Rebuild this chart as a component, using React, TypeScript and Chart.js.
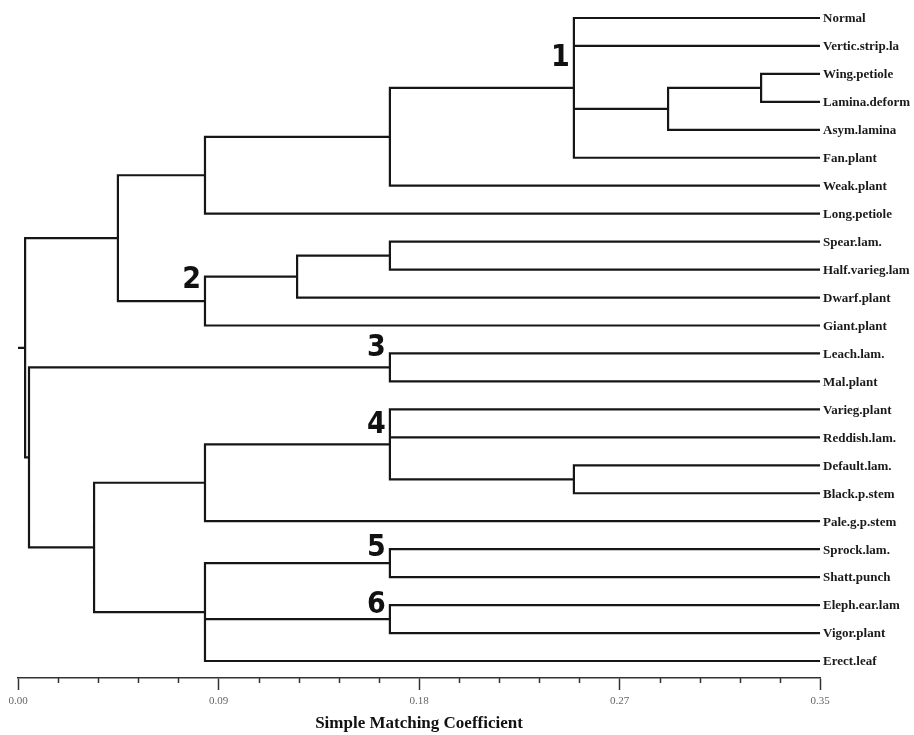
import React, { useEffect, useRef } from "react";
import { Chart, registerables } from "chart.js";

Chart.register(...registerables);

// ---------- DATA ----------
const leafLabels = [
  "Normal",
  "Vertic.strip.la",
  "Wing.petiole",
  "Lamina.deform",
  "Asym.lamina",
  "Fan.plant",
  "Weak.plant",
  "Long.petiole",
  "Spear.lam.",
  "Half.varieg.lam",
  "Dwarf.plant",
  "Giant.plant",
  "Leach.lam.",
  "Mal.plant",
  "Varieg.plant",
  "Reddish.lam.",
  "Default.lam.",
  "Black.p.stem",
  "Pale.g.p.stem",
  "Sprock.lam.",
  "Shatt.punch",
  "Eleph.ear.lam",
  "Vigor.plant",
  "Erect.leaf",
];

// Children of each merge (ids < 24 are leaves, ids >= 24 are earlier merges, in order)
const mergeChildren: number[][] = [
  [2, 3], // 24
  [24, 4], // 25
  [0, 1, 25, 5], // 26 (cluster 1)
  [26, 6], // 27
  [27, 7], // 28
  [8, 9], // 29
  [29, 10], // 30
  [30, 11], // 31 (cluster 2)
  [28, 31], // 32
  [12, 13], // 33 (cluster 3)
  [16, 17], // 34
  [14, 15, 34], // 35 (cluster 4)
  [35, 18], // 36
  [19, 20], // 37 (cluster 5)
  [21, 22], // 38 (cluster 6)
  [37, 38, 23], // 39
  [36, 39], // 40
  [33, 40], // 41
  [32, 41], // 42 (root)
];

// Similarity (Simple Matching Coefficient) at which each merge happens
const mergeHeights = [
  0.3243, 0.2837, 0.2426, 0.1623, 0.0816, 0.1623, 0.1218, 0.0816, 0.0436,
  0.1623, 0.2426, 0.1623, 0.0816, 0.1623, 0.1623, 0.0816, 0.0332, 0.0048,
  0.0031,
];

const leafHeight = 0.35;
const axisMin = 0;
const axisMax = 0.35;
const xTickLabels = ["0.00", "0.09", "0.18", "0.27", "0.35"];
const minorPerMajor = 5;

const clusterNames = ["1", "2", "3", "4", "5", "6"];
const clusterMerges = [26, 31, 33, 35, 37, 38];

// ---------- LAYOUT (annotation placement, in leaf-row units) ----------
const clusterLabelRows = [1.43, 9.37, 11.8, 14.55, 18.96, 21.0];

// ---------- BUILD SEGMENTS ----------
type Pt = { x: number | null; y: number | null };
function buildDendrogram() {
  const n = leafLabels.length;
  const posY: number[] = [];
  const posX: number[] = [];
  leafLabels.forEach((_, i) => {
    posY[i] = i;
    posX[i] = leafHeight;
  });
  const pts: Pt[] = [];
  const gap = () => pts.push({ x: null, y: null });
  mergeChildren.forEach((ch, k) => {
    const id = n + k;
    const h = mergeHeights[k];
    const ys = ch.map((c) => posY[c]);
    const top = Math.min(...ys);
    const bot = Math.max(...ys);
    posY[id] = (top + bot) / 2;
    posX[id] = h;
    const first = ch[0];
    const last = ch[ch.length - 1];
    pts.push(
      { x: posX[first], y: posY[first] },
      { x: h, y: posY[first] },
      { x: h, y: posY[last] },
      { x: posX[last], y: posY[last] }
    );
    gap();
    ch.slice(1, -1).forEach((c) => {
      pts.push({ x: h, y: posY[c] }, { x: posX[c], y: posY[c] });
      gap();
    });
  });
  const root = n + mergeChildren.length - 1;
  pts.push({ x: axisMin, y: posY[root] }, { x: posX[root], y: posY[root] });
  return { pts, posX, posY };
}

export default function App() {
  const ref = useRef<HTMLCanvasElement | null>(null);

  useEffect(() => {
    if (!ref.current) return;
    const { pts, posX } = buildDendrogram();
    const nLeaves = leafLabels.length;

    const decor = {
      id: "dendroDecor",
      afterDraw(chart: any) {
        const { ctx, scales, chartArea } = chart;
        const xs = scales.x;
        const ys = scales.y;
        ctx.save();
        // leaf labels
        ctx.font = 'bold 13px "Liberation Serif", "Times New Roman", serif';
        ctx.fillStyle = "#1a1a1a";
        ctx.textAlign = "left";
        ctx.textBaseline = "middle";
        leafLabels.forEach((lab, i) => {
          ctx.fillText(lab, xs.getPixelForValue(leafHeight) + 3, ys.getPixelForValue(i) + 1);
        });
        // cluster numbers
        ctx.font = 'bold 30px "Liberation Sans Narrow", "DejaVu Sans Condensed", "Liberation Sans", sans-serif';
        ctx.fillStyle = "#111";
        ctx.textAlign = "right";
        clusterNames.forEach((name, i) => {
          const id = clusterMerges[i];
          ctx.fillText(name, xs.getPixelForValue(posX[id]) - 4, ys.getPixelForValue(clusterLabelRows[i]));
        });
        // minor ticks
        ctx.strokeStyle = "#333";
        ctx.lineWidth = 1.5;
        const axisY = chartArea.bottom;
        const nMinor = (xTickLabels.length - 1) * minorPerMajor;
        for (let k = 0; k <= nMinor; k++) {
          if (k % minorPerMajor === 0) continue;
          const v = axisMin + ((axisMax - axisMin) * k) / nMinor;
          const px = Math.round(xs.getPixelForValue(v)) + 0.5;
          ctx.beginPath();
          ctx.moveTo(px, axisY);
          ctx.lineTo(px, axisY + 5);
          ctx.stroke();
        }
        ctx.restore();
      },
    };

    const chart = new Chart(ref.current, {
      type: "line",
      data: {
        datasets: [
          {
            data: pts as any,
            borderColor: "#161616",
            borderWidth: 2.2,
            pointRadius: 0,
            pointHoverRadius: 0,
            spanGaps: false,
            tension: 0,
            fill: false,
            borderJoinStyle: "miter",
            borderCapStyle: "butt",
          },
        ],
      },
      options: {
        animation: false,
        responsive: false,
        events: [],
        layout: { padding: { left: 18, right: 94, top: 4, bottom: 0 } },
        plugins: {
          legend: { display: false },
          tooltip: { enabled: false },
        },
        scales: {
          x: {
            type: "linear",
            min: axisMin,
            max: axisMax,
            afterBuildTicks: (scale: any) => {
              scale.ticks = xTickLabels.map((_, i) => ({
                value: axisMin + ((axisMax - axisMin) * i) / (xTickLabels.length - 1),
              }));
            },
            afterFit: (scale: any) => {
              scale.height = 57;
            },
            ticks: {
              autoSkip: false,
              maxRotation: 0,
              padding: 5,
              color: "#666",
              font: { family: '"Liberation Serif", serif', size: 11 },
              callback: (_v: any, i: number) => xTickLabels[i],
            },
            grid: {
              drawOnChartArea: false,
              drawTicks: true,
              tickLength: 12,
              tickColor: "#333",
              tickWidth: 1.5,
            },
            border: { display: true, color: "#333", width: 1.5 },
            title: {
              display: true,
              text: "Simple Matching Coefficient",
              color: "#111",
              font: { family: '"Liberation Serif", serif', size: 17, weight: "bold" },
              padding: { top: 0, bottom: 1 },
            },
          },
          y: {
            type: "linear",
            display: false,
            reverse: true,
            min: -0.5,
            max: nLeaves - 1 + 0.608,
          },
        },
      },
      plugins: [decor],
    } as any);
    return () => chart.destroy();
  }, []);

  return (
    <div style={{ position: "absolute", left: 0, top: 0, width: 914, height: 735, background: "#fff" }}>
      <canvas ref={ref} width={914} height={735} style={{ display: "block" }} />
    </div>
  );
}
